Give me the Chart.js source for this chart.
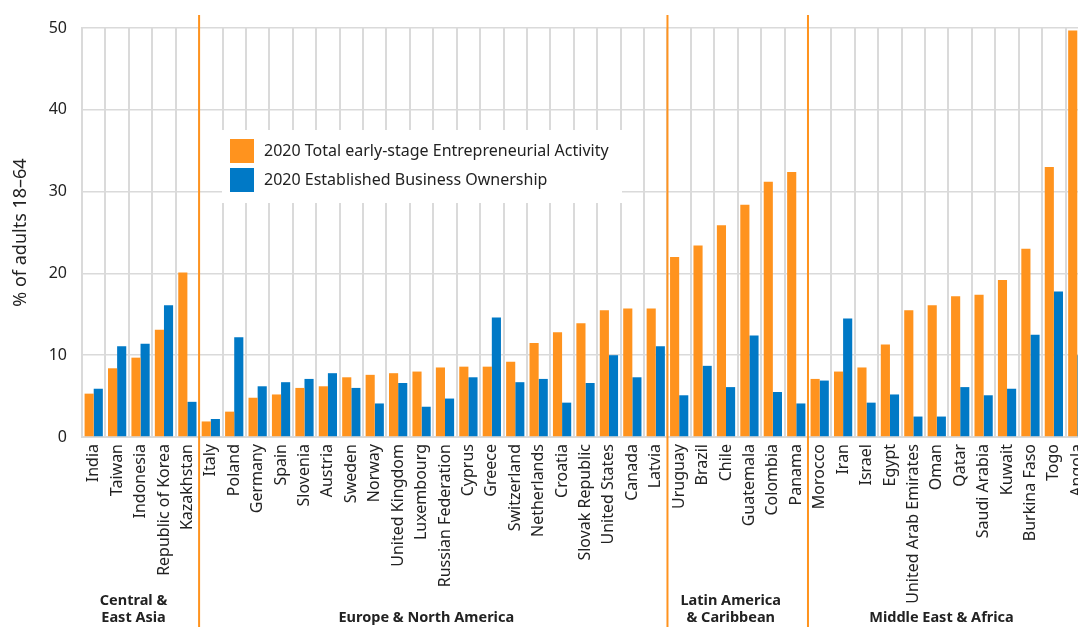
<!DOCTYPE html>
<html>
<head>
<meta charset="utf-8">
<script src="https://cdn.jsdelivr.net/npm/chart.js@4.4.0/dist/chart.umd.min.js"></script>
<style>
  html, body { margin: 0; padding: 0; background: #fff; overflow: hidden; }
  #recorte { width: 1078px; height: 627px; overflow: hidden; position: relative; }
  #wrap { width: 1092px; height: 627px; position: absolute; left: 0; top: 0; }
</style>
</head>
<body>
<div id="recorte"><div id="wrap"><canvas id="grafico"></canvas></div></div>
<script>
const paises = [
  'India', 'Taiwan', 'Indonesia', 'Republic of Korea', 'Kazakhstan',
  'Italy', 'Poland', 'Germany', 'Spain', 'Slovenia', 'Austria', 'Sweden', 'Norway',
  'United Kingdom', 'Luxembourg', 'Russian Federation', 'Cyprus', 'Greece', 'Switzerland',
  'Netherlands', 'Croatia', 'Slovak Republic', 'United States', 'Canada', 'Latvia',
  'Uruguay', 'Brazil', 'Chile', 'Guatemala', 'Colombia', 'Panama',
  'Morocco', 'Iran', 'Israel', 'Egypt', 'United Arab Emirates', 'Oman', 'Qatar',
  'Saudi Arabia', 'Kuwait', 'Burkina Faso', 'Togo', 'Angola'
];

const tea = [
  5.3, 8.4, 9.7, 13.1, 20.1,
  1.9, 3.1, 4.8, 5.2, 6.0, 6.2, 7.3, 7.6, 7.8, 8.0, 8.5, 8.6, 8.6, 9.2, 11.5, 12.8, 13.9, 15.5, 15.7, 15.7,
  22.0, 23.4, 25.9, 28.4, 31.2, 32.4,
  7.1, 8.0, 8.5, 11.3, 15.5, 16.1, 17.2, 17.4, 19.2, 23.0, 33.0, 49.7
];

const ebo = [
  5.9, 11.1, 11.4, 16.1, 4.3,
  2.2, 12.2, 6.2, 6.7, 7.1, 7.8, 6.0, 4.1, 6.6, 3.7, 4.7, 7.3, 14.6, 6.7, 7.1, 4.2, 6.6, 10.0, 7.3, 11.1,
  5.1, 8.7, 6.1, 12.4, 5.5, 4.1,
  6.9, 14.5, 4.2, 5.2, 2.5, 2.5, 6.1, 5.1, 5.9, 12.5, 17.8, 10.0
];

const regiones = [['Central &', 'East Asia'], ['Europe & North America'], ['Latin America', '& Caribbean'], ['Middle East & Africa']];
const tamanoRegiones = [5, 20, 6, 12];

const naranja = '#ff931e';
const azul = '#0079c6';
const fuente = "'Noto Sans', sans-serif";

// leyenda y separadores de regiones dibujados a mano
const extras = {
  id: 'extras',
  afterDatasetsDraw(chart) {
    const ctx = chart.ctx;
    const x = chart.scales.x;
    const limite = (i) => (x.getPixelForTick(i - 1) + x.getPixelForTick(i)) / 2;

    ctx.save();
    // separadores
    let acumulado = 0;
    const bordes = [x.left];
    tamanoRegiones.forEach((n) => {
      acumulado += n;
      bordes.push(acumulado < paises.length ? limite(acumulado) : x.right);
    });
    ctx.strokeStyle = naranja;
    ctx.lineWidth = 2;
    bordes.slice(1, -1).forEach((bx) => {
      ctx.beginPath();
      ctx.moveTo(bx, 15);
      ctx.lineTo(bx, chart.height);
      ctx.stroke();
    });

    // nombres de regiones
    ctx.fillStyle = '#222';
    ctx.font = `bold 14.5px ${fuente}`;
    ctx.textAlign = 'center';
    ctx.textBaseline = 'middle';
    regiones.forEach((lineas, i) => {
      const cx = (bordes[i] + bordes[i + 1]) / 2 - 7;
      if (lineas.length === 2) {
        ctx.fillText(lineas[0], cx, 601);
        ctx.fillText(lineas[1], cx, 618);
      } else {
        ctx.fillText(lineas[0], cx, 618);
      }
    });

    // leyenda
    ctx.fillStyle = '#fff';
    ctx.fillRect(222, 130, 400, 73);
    ctx.font = `16px ${fuente}`;
    ctx.textAlign = 'left';
    chart.data.datasets.forEach((ds, i) => {
      const y = 139 + i * 29;
      ctx.fillStyle = ds.backgroundColor;
      ctx.fillRect(230, y, 24, 24);
      ctx.fillStyle = '#222';
      ctx.fillText(ds.label, 264, y + 12);
    });
    ctx.restore();
  }
};

new Chart(document.getElementById('grafico'), {
  type: 'bar',
  data: {
    labels: paises,
    datasets: [
      {
        label: '2020 Total early-stage Entrepreneurial Activity',
        data: tea,
        backgroundColor: naranja,
        categoryPercentage: 0.78,
        barPercentage: 1
      },
      {
        label: '2020 Established Business Ownership',
        data: ebo,
        backgroundColor: azul,
        categoryPercentage: 0.78,
        barPercentage: 1
      }
    ]
  },
  options: {
    responsive: true,
    maintainAspectRatio: false,
    animation: false,
    layout: {
      // el lienzo es más ancho que la ventana: Angola queda cortada como en el original
      padding: { top: 28, right: 3, left: 0, bottom: 0 }
    },
    plugins: {
      legend: { display: false },
      tooltip: { enabled: false }
    },
    scales: {
      x: {
        grid: { color: '#dadada', lineWidth: 2, drawTicks: false },
        border: { color: '#dadada', width: 2 },
        ticks: {
          color: '#222',
          font: { size: 16, family: fuente },
          maxRotation: 90,
          minRotation: 90,
          autoSkip: false,
          padding: 7
        },
        afterFit(scale) {
          scale.height = 190;
          scale.paddingRight = 0;
          scale.paddingLeft = 0;
        }
      },
      y: {
        min: 0,
        max: 50,
        grid: { color: '#dadada', lineWidth: 1.5, drawTicks: false },
        border: { color: '#dadada', width: 2 },
        ticks: {
          stepSize: 10,
          color: '#222',
          font: { size: 16, family: fuente },
          padding: 15
        },
        title: {
          display: true,
          text: '% of adults 18–64',
          color: '#222',
          font: { size: 18, family: fuente },
          padding: { top: 10, bottom: 0 }
        },
        afterFit(scale) {
          scale.width = 82;
        }
      }
    }
  },
  plugins: [extras]
});
</script>
</body>
</html>
